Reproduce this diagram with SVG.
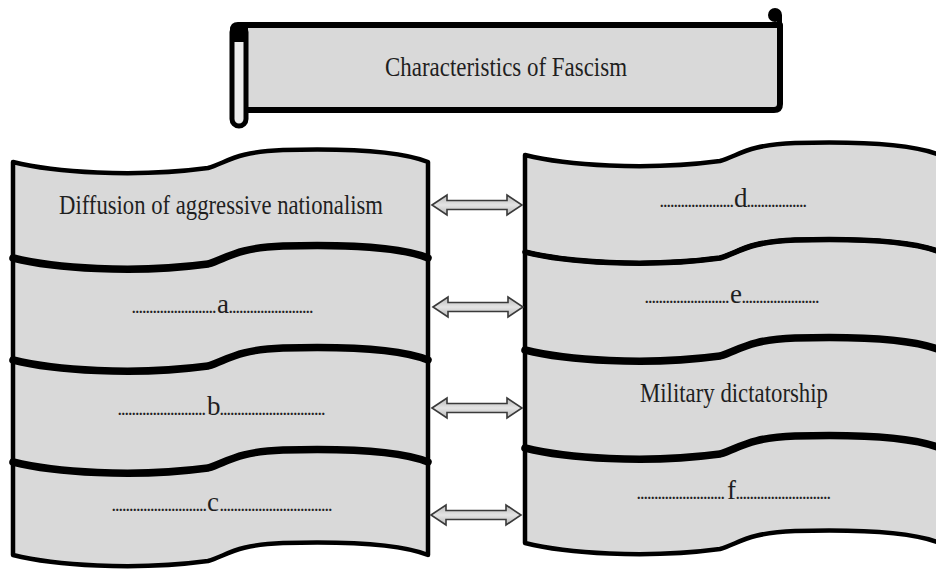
<svg xmlns="http://www.w3.org/2000/svg" xmlns:xlink="http://www.w3.org/1999/xlink" width="936" height="570" viewBox="0 0 936 570">
<defs>
<style>
.row { fill:#d9d9d9; stroke:#000; stroke-width:4.5; stroke-linejoin:round; }
.div { fill:none; stroke:#000; stroke-width:7.5; stroke-linecap:round; }
.lbl { font-family:"Liberation Serif", "Times New Roman", serif; font-size:28px; fill:#1f1f1f; }
.let { font-size:27px; }
.dots { font-size:14px; font-weight:bold; }
.arrow { fill:url(#ag); stroke:#3a3a3a; stroke-width:1.6; stroke-linejoin:miter; }
</style>
<linearGradient id="ag" x1="0" y1="0" x2="0" y2="1">
<stop offset="0" stop-color="#b8b8b8"/>
<stop offset="0.5" stop-color="#e4e4e4"/>
<stop offset="1" stop-color="#b8b8b8"/>
</linearGradient>
<path id="dbl" d="M0,0 L15,-10 L15,-4.5 L75,-4.5 L75,-10 L90,0 L75,10 L75,4.5 L15,4.5 L15,10 Z"/>
</defs>
<rect width="936" height="570" fill="#fff"/>

<g id="title">
<path d="M240,25 H780 V104 Q780,110 774,110 H240 Z" fill="#d9d9d9" stroke="#000" stroke-width="6" stroke-linejoin="round"/>
<rect x="232" y="25" width="14" height="101" rx="7" fill="#ececec" stroke="#000" stroke-width="5"/>
<path d="M230,42 V30 Q230,22 238,22 H248 V42 Z" fill="#000"/>
<circle cx="775" cy="15" r="7" fill="#000"/>
<rect x="777" y="15" width="5" height="14" fill="#000"/>
<text class="lbl" x="385" y="76" textLength="242" lengthAdjust="spacingAndGlyphs" font-size="27">Characteristics of Fascism</text>
</g>

<g id="left-1">
<path class="row" d="M13,162 c40,10 120,16 195,6 c20,-6 27,-16 75,-18 c70,-2 120,2 145,12 v96 c-25,-10 -75,-14 -145,-12 c-48,2 -55,12 -75,18 c-75,10 -155,4 -195,-6 z"/>
<text class="lbl" x="59" y="214" textLength="324" lengthAdjust="spacingAndGlyphs">Diffusion of aggressive nationalism</text>
</g>
<g id="left-2">
<path class="row" d="M13,258 c40,10 120,16 195,6 c20,-6 27,-16 75,-18 c70,-2 120,2 145,12 v102 c-25,-10 -75,-14 -145,-12 c-48,2 -55,12 -75,18 c-75,10 -155,4 -195,-6 z"/>
<path class="div" d="M13,258 c40,10 120,16 195,6 c20,-6 27,-16 75,-18 c70,-2 120,2 145,12"/>
<text class="lbl" y="313"><tspan class="dots" x="132">........................</tspan><tspan class="let" x="217">a</tspan><tspan class="dots" x="229">........................</tspan></text>
</g>
<g id="left-3">
<path class="row" d="M13,360 c40,10 120,16 195,6 c20,-6 27,-16 75,-18 c70,-2 120,2 145,12 v102 c-25,-10 -75,-14 -145,-12 c-48,2 -55,12 -75,18 c-75,10 -155,4 -195,-6 z"/>
<path class="div" d="M13,360 c40,10 120,16 195,6 c20,-6 27,-16 75,-18 c70,-2 120,2 145,12"/>
<text class="lbl" y="415"><tspan class="dots" x="118">.........................</tspan><tspan class="let" x="207">b</tspan><tspan class="dots" x="220">..............................</tspan></text>
</g>
<g id="left-4">
<path class="row" d="M13,462 c40,10 120,16 195,6 c20,-6 27,-16 75,-18 c70,-2 120,2 145,12 v93 c-25,-10 -75,-14 -145,-12 c-48,2 -55,12 -75,18 c-75,10 -155,4 -195,-6 z"/>
<path class="div" d="M13,462 c40,10 120,16 195,6 c20,-6 27,-16 75,-18 c70,-2 120,2 145,12"/>
<text class="lbl" y="511"><tspan class="dots" x="112">...........................</tspan><tspan class="let" x="207">c</tspan><tspan class="dots" x="220">................................</tspan></text>
</g>

<g id="right-1">
<path class="row" d="M525,155 c40,10 120,16 195,6 c20,-6 27,-16 75,-18 c70,-2 120,2 145,12 v97 c-25,-10 -75,-14 -145,-12 c-48,2 -55,12 -75,18 c-75,10 -155,4 -195,-6 z"/>
<text class="lbl" y="207"><tspan class="dots" x="660">.....................</tspan><tspan class="let" x="734">d</tspan><tspan class="dots" x="747">.................</tspan></text>
</g>
<g id="right-2">
<path class="row" d="M525,252 c40,10 120,16 195,6 c20,-6 27,-16 75,-18 c70,-2 120,2 145,12 v98 c-25,-10 -75,-14 -145,-12 c-48,2 -55,12 -75,18 c-75,10 -155,4 -195,-6 z"/>
<path class="div" style="stroke-width:5.5" d="M525,252 c40,10 120,16 195,6 c20,-6 27,-16 75,-18 c70,-2 120,2 145,12"/>
<text class="lbl" y="303"><tspan class="dots" x="645">........................</tspan><tspan class="let" x="730">e</tspan><tspan class="dots" x="742">......................</tspan></text>
</g>
<g id="right-3">
<path class="row" d="M525,350 c40,10 120,16 195,6 c20,-6 27,-16 75,-18 c70,-2 120,2 145,12 v98 c-25,-10 -75,-14 -145,-12 c-48,2 -55,12 -75,18 c-75,10 -155,4 -195,-6 z"/>
<path class="div" d="M525,350 c40,10 120,16 195,6 c20,-6 27,-16 75,-18 c70,-2 120,2 145,12"/>
<text class="lbl" x="640" y="402" textLength="188" lengthAdjust="spacingAndGlyphs">Military dictatorship</text>
</g>
<g id="right-4">
<path class="row" d="M525,448 c40,10 120,16 195,6 c20,-6 27,-16 75,-18 c70,-2 120,2 145,12 v95 c-25,-10 -75,-14 -145,-12 c-48,2 -55,12 -75,18 c-75,10 -155,4 -195,-6 z"/>
<path class="div" d="M525,448 c40,10 120,16 195,6 c20,-6 27,-16 75,-18 c70,-2 120,2 145,12"/>
<text class="lbl" y="499"><tspan class="dots" x="637">.........................</tspan><tspan class="let" x="727">f</tspan><tspan class="dots" x="736">...........................</tspan></text>
</g>

<g id="connectors">
<use xlink:href="#dbl" class="arrow" transform="translate(432,205)"/>
<use xlink:href="#dbl" class="arrow" transform="translate(433,307)"/>
<use xlink:href="#dbl" class="arrow" transform="translate(432,408)"/>
<use xlink:href="#dbl" class="arrow" transform="translate(431,515)"/>
</g>
</svg>
